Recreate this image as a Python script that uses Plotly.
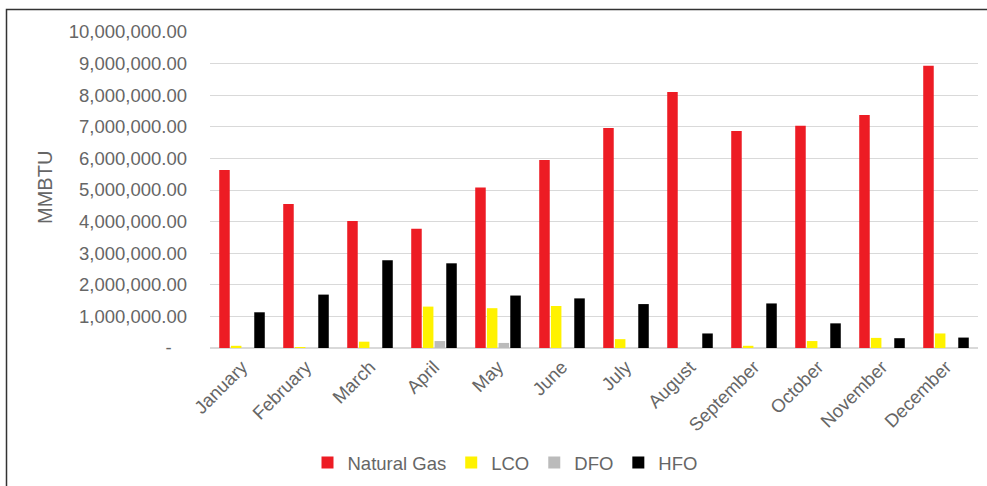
import plotly.graph_objects as go

# Monthly fuel consumption, MMBTU
months = ["January", "February", "March", "April", "May", "June",
          "July", "August", "September", "October", "November", "December"]
natural_gas = [5630000, 4560000, 4020000, 3770000, 5080000, 5950000,
               6960000, 8100000, 6870000, 7030000, 7370000, 8930000]
lco = [70000, 10000, 200000, 1310000, 1260000, 1330000,
       280000, 0, 70000, 220000, 320000, 460000]
dfo = [0, 0, 0, 220000, 160000, 0, 0, 0, 0, 0, 0, 0]
hfo = [1130000, 1690000, 2780000, 2680000, 1660000, 1570000,
       1390000, 460000, 1410000, 780000, 310000, 330000]

series = [
    ("Natural Gas", natural_gas, "#ED1C24"),
    ("LCO", lco, "#FFF200"),
    ("DFO", dfo, "#BBBBBB"),
    ("HFO", hfo, "#000000"),
]

tick_vals = [i * 1000000 for i in range(11)]
tick_text = ["-\u00a0\u00a0\u00a0"] + [f"{v:,.2f}" for v in tick_vals[1:]]

FONT = "Liberation Sans, Arial, sans-serif"
GREY_TEXT = "#666666"

fig = go.Figure()
for name, vals, color in series:
    fig.add_trace(go.Bar(name=name, x=months, y=vals, marker_color=color,
                         marker_line_width=0))

W, H = 987, 486
L, R, T, B = 210, 9, 32, 138
pw, ph = W - L - R, H - T - B

def px_x(x):
    return (x - L) / pw

def px_y(y):
    return (H - B - y) / ph

fig.update_layout(
    width=W, height=H,
    margin=dict(l=L, r=R, t=T, b=B, autoexpand=False),
    paper_bgcolor="white", plot_bgcolor="white",
    barmode="group", bargap=0.27, bargroupgap=0.1,
    font=dict(family=FONT, size=18.5, color=GREY_TEXT),
    showlegend=True,
    legend=dict(orientation="h", x=px_x(505), xanchor="center",
                y=px_y(463), yanchor="middle",
                font=dict(family=FONT, size=18.5, color=GREY_TEXT),
                itemwidth=30, traceorder="normal", tracegroupgap=0),
    xaxis=dict(tickangle=-45, showgrid=False, showline=True,
               linecolor="#d9d9d9", linewidth=1, ticks="",
               tickfont=dict(family=FONT, size=18.5, color=GREY_TEXT)),
    yaxis=dict(range=[0, 10000000], tickvals=tick_vals, ticktext=tick_text,
               showgrid=True, gridcolor="#d9d9d9", gridwidth=1,
               zeroline=True, zerolinecolor="#d9d9d9", ticks="",
               ticklabelstandoff=22,
               tickfont=dict(family=FONT, size=18.5, color=GREY_TEXT)),
    annotations=[dict(text="MMBTU", xref="paper", yref="paper",
                      x=px_x(45), y=px_y(188), textangle=-90,
                      showarrow=False, xanchor="center", yanchor="middle",
                      font=dict(family=FONT, size=20, color=GREY_TEXT))],
    shapes=[dict(type="rect", xref="paper", yref="paper",
                 x0=px_x(6.5), x1=px_x(995), y0=px_y(495), y1=px_y(9.5),
                 line=dict(color="#333333", width=1.5), layer="below")],
)

fig.write_html("out.html")
